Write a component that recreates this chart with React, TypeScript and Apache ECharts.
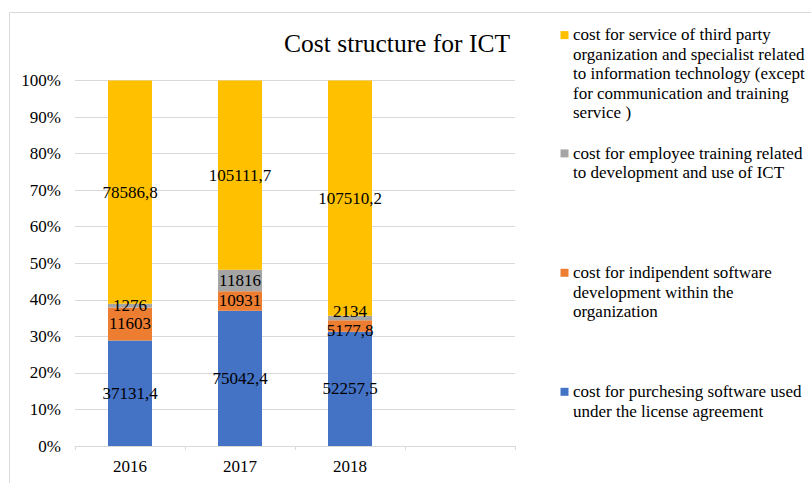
import React, { useEffect, useRef } from "react";
import * as echarts from "echarts";

const categories = ["2016", "2017", "2018", ""];
const seriesNames = [
  "cost for purchesing software used\nunder the license agreement",
  "cost for indipendent software\ndevelopment within the\norganization",
  "cost for employee training related\nto development and use of ICT",
  "cost for service of third party\norganization and specialist related\nto information technology (except\nfor communication and training\nservice )",
];
const purchasing = [37131.4, 75042.4, 52257.5];
const independentDev = [11603, 10931, 5177.8];
const training = [1276, 11816, 2134];
const thirdParty = [78586.8, 105111.7, 107510.2];
const colors = ["#4472C4", "#ED7D31", "#A5A5A5", "#FFC000"];
const yTicks = [0, 10, 20, 30, 40, 50, 60, 70, 80, 90, 100];

const FONT = "'Liberation Serif', 'Times New Roman', serif";

export default function App() {
  const ref = useRef<HTMLDivElement>(null);
  useEffect(() => {
    if (!ref.current) return;
    const chart = echarts.init(ref.current, null, { renderer: "svg" });
    const raw = [purchasing, independentDev, training, thirdParty];
    const totals = purchasing.map((_, i) => raw.reduce((s, arr) => s + arr[i], 0));
    // label nudges (layout only) per series/category
    const labelOffsets: Record<string, number[]> = {
      "1-2": [0, 4],
      "2-2": [0, -7],
    };
    const series = raw.map((arr, si) => ({
      type: "bar",
      name: seriesNames[si],
      stack: "total",
      barWidth: 44,
      itemStyle: { color: colors[si] },
      data: arr.map((v, ci) => ({
        value: (v / totals[ci]) * 100,
        label: labelOffsets[`${si}-${ci}`] ? { offset: labelOffsets[`${si}-${ci}`] } : undefined,
      })),
      label: {
        show: true,
        position: "inside",
        color: "#000",
        fontFamily: FONT,
        fontSize: 17,
        formatter: (p: any) => String(arr[p.dataIndex]).replace(".", ","),
      },
    }));

    const legendTops = [382, 263, 143.6, 25.3];
    const legendGraphics: any[] = [];
    for (let i = 3; i >= 0; i--) {
      legendGraphics.push({
        type: "rect",
        shape: { x: 560.5, y: legendTops[i] + 5.8, width: 8, height: 8 },
        style: { fill: colors[i] },
      });
      legendGraphics.push({
        type: "text",
        x: 573,
        y: legendTops[i],
        style: {
          text: seriesNames[i],
          fontFamily: FONT,
          fontSize: 17,
          lineHeight: 19.4,
          fill: "#000",
          verticalAlign: "top",
          align: "left",
        },
      });
    }

    chart.setOption({
      animation: false,
      backgroundColor: "#fff",
      title: {
        text: "Cost structure for ICT",
        right: 301,
        top: 30,
        padding: 0,
        textStyle: { fontFamily: FONT, fontSize: 25.5, fontWeight: "normal", color: "#000" },
      },
      grid: { left: 75, right: 296, top: 80.5, bottom: 37, containLabel: false },
      xAxis: {
        type: "category",
        data: categories,
        axisLine: { lineStyle: { color: "#d9d9d9", width: 1 } },
        axisTick: { show: true, length: 4, lineStyle: { color: "#d9d9d9" } },
        axisLabel: { fontFamily: FONT, fontSize: 17, color: "#000", margin: 12 },
      },
      yAxis: {
        type: "value",
        min: yTicks[0],
        max: yTicks[yTicks.length - 1],
        interval: 10,
        axisLine: { show: false },
        axisTick: { show: false },
        splitLine: { lineStyle: { color: "#d9d9d9", width: 1 } },
        axisLabel: { fontFamily: FONT, fontSize: 17, color: "#000", margin: 14, formatter: "{value}%" },
      },
      series,
      graphic: [
        {
          type: "rect",
          shape: { x: 9.5, y: 12.5, width: 1000, height: 1000 },
          style: { fill: "none", stroke: "#d9d9d9", lineWidth: 1 },
          silent: true,
          z: -10,
        },
        ...legendGraphics,
      ],
    });
    return () => chart.dispose();
  }, []);
  return (
    <div
      ref={ref}
      style={{ position: "fixed", left: 0, top: 0, width: 811, height: 483, background: "#fff" }}
    />
  );
}
